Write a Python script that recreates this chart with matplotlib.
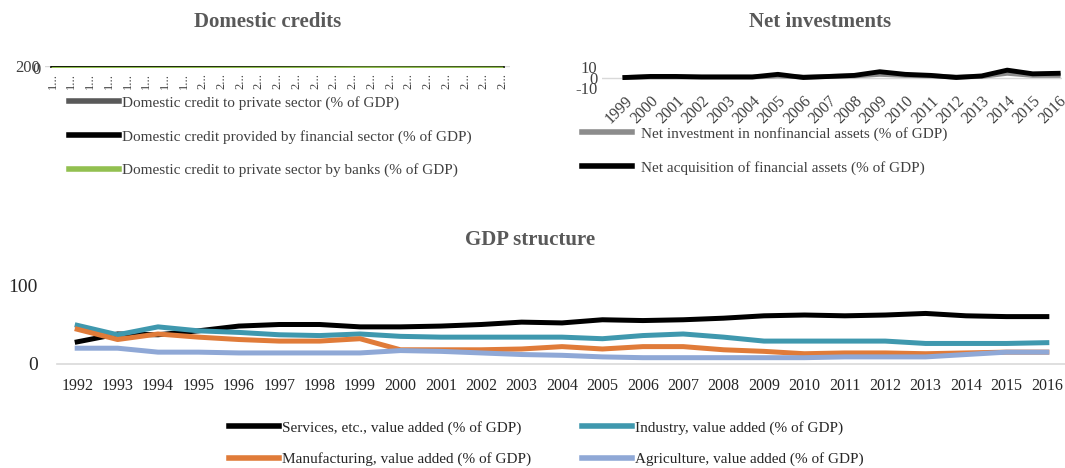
import numpy as np
import matplotlib
matplotlib.use("Agg")
import matplotlib.pyplot as plt
from matplotlib.lines import Line2D

plt.rcParams['font.family'] = ['Liberation Serif', 'DejaVu Serif']

# ---- data ----
gdp_years = [str(y) for y in range(1992, 2017)]
services = [28, 38, 37, 42, 48, 50, 50, 47, 47, 48, 50, 53, 52, 56, 55, 56, 58, 61, 62, 61, 62, 64, 61, 60, 60]
industry = [49, 37, 47, 42, 40, 37, 36, 38, 35, 34, 34, 34, 34, 32, 36, 38, 34, 29, 29, 29, 29, 26, 26, 26, 27]
manufacturing = [44, 31, 38, 34, 31, 29, 29, 32, 18, 18, 18, 19, 22, 19, 22, 22, 18, 16, 13, 14, 14, 13, 14, 15, 15]
agriculture = [20, 20, 15, 15, 14, 14, 14, 14, 17, 16, 14, 12, 11, 9, 8, 8, 8, 8, 8, 9, 9, 9, 12, 15, 15]

credit_years = [str(y) for y in range(1992, 2017)]
credit_private = [10, 12, 14, 15, 16, 17, 18, 19, 20, 22, 24, 26, 28, 32, 36, 42, 50, 52, 50, 48, 46, 44, 42, 40, 38]
credit_financial = [30, 32, 33, 34, 35, 36, 37, 38, 40, 42, 44, 46, 48, 52, 56, 62, 70, 72, 70, 68, 66, 64, 62, 60, 58]
credit_banks = [10, 12, 14, 15, 16, 17, 18, 19, 20, 22, 24, 26, 28, 32, 36, 42, 50, 52, 50, 48, 46, 44, 42, 40, 38]

inv_years = [str(y) for y in range(1999, 2017)]
net_nonfin = [0, 0.5, 0.5, 0.5, 0.5, 0.5, 1.5, 0.5, 1, 1.5, 3, 2, 1.5, 0.5, 1, 4, 2, 2]
net_fin = [0, 1, 1, 0.5, 0.5, 0.5, 3, 0, 1, 2, 5.5, 3, 2, 0, 1.5, 7, 3.5, 4]

W, H = 1065, 468
fig = plt.figure(figsize=(W / 100, H / 100), dpi=100)

title_col = '#595959'
tick_col = '#404040'
leg_col = '#404040'


def ax_px(left, top, right, bottom):
    return fig.add_axes([left / W, 1 - bottom / H, (right - left) / W, (bottom - top) / H])


def clean(ax):
    for s in ax.spines.values():
        s.set_visible(False)
    ax.tick_params(length=0, colors=tick_col)


# ---- Domestic credits ----
ax1 = ax_px(45, 66, 510, 68)
x1 = np.arange(len(credit_years))
ax1.plot(x1, credit_private, color='#595959', lw=3)
ax1.plot(x1, credit_financial, color='black', lw=3)
ax1.plot(x1, credit_banks, color='#92C050', lw=1.5)
ax1.set_ylim(0, 200)
ax1.set_xlim(-0.4, len(credit_years) - 0.6)
ax1.set_yticks([0, 200])
ax1.set_yticklabels(['0', '200'], fontsize=12)
ax1.set_xticks(x1)
ax1.set_xticklabels([y[0] + '...' for y in credit_years], rotation=90, fontsize=9, color='#595959')
ax1.axhline(200, color='#d9d9d9', lw=1, zorder=0)
clean(ax1)
fig.text(268 / W, 1 - 22 / H, 'Domestic credits', ha='center', va='center',
         fontsize=15, fontweight='bold', color=title_col)
h1 = [Line2D([], [], color='#595959', lw=4),
      Line2D([], [], color='black', lw=4),
      Line2D([], [], color='#92C050', lw=4)]
fig.legend(h1, ['Domestic credit to private sector (% of GDP)',
                'Domestic credit provided by financial sector (% of GDP)',
                'Domestic credit to private sector by banks (% of GDP)'],
           loc='upper left', bbox_to_anchor=(55 / W, 1 - 82 / H), frameon=False,
           fontsize=11, handlelength=3.3, handletextpad=0.2, labelspacing=1.3,
           labelcolor=leg_col)

# ---- Net investments ----
ax2 = ax_px(602, 67, 1062, 88)
x2 = np.arange(len(inv_years))
ax2.plot(x2, net_nonfin, color='#8C8C8C', lw=3.5)
ax2.plot(x2, net_fin, color='black', lw=3.5)
ax2.set_ylim(-10, 10)
ax2.set_xlim(-0.9, len(inv_years) - 0.85)
ax2.set_yticks([-10, 0, 10])
ax2.set_yticklabels(['-10', '0', '10'], fontsize=12)
ax2.axhline(0, color='#d9d9d9', lw=1, zorder=0)
ax2.set_xticks(x2)
ax2.set_xticklabels(inv_years, rotation=45, ha='right', rotation_mode='anchor', fontsize=11.5)
clean(ax2)
fig.text(820 / W, 1 - 22 / H, 'Net investments', ha='center', va='center',
         fontsize=15, fontweight='bold', color=title_col)
h2 = [Line2D([], [], color='#8C8C8C', lw=4), Line2D([], [], color='black', lw=4)]
fig.legend(h2, ['Net investment in nonfinancial assets (% of GDP)',
                'Net acquisition of financial assets (% of GDP)'],
           loc='upper left', bbox_to_anchor=(568 / W, 1 - 113 / H), frameon=False,
           fontsize=11, handlelength=3.3, handletextpad=0.6, labelspacing=1.3,
           labelcolor=leg_col)

# ---- GDP structure ----
ax3 = ax_px(57, 285, 1065, 364)
x3 = np.arange(len(gdp_years))
ax3.plot(x3, services, color='black', lw=3.6)
ax3.plot(x3, industry, color='#3F98AE', lw=3.6)
ax3.plot(x3, manufacturing, color='#E07B39', lw=3.6)
ax3.plot(x3, agriculture, color='#8FA8D6', lw=3.6)
ax3.set_ylim(0, 100)
ax3.set_xlim(-0.5, len(gdp_years) - 0.55)
ax3.set_yticks([0, 100])
ax3.set_yticklabels(['0', '100'], fontsize=14)
ax3.axhline(0, color='#d9d9d9', lw=1.2, zorder=0, clip_on=False)
ax3.set_xticks(x3)
ax3.set_xticklabels(gdp_years, fontsize=11.5)
ax3.tick_params(axis='x', pad=10)
ax3.tick_params(axis='y', pad=14)
clean(ax3)
ax3.tick_params(colors='#262626')
fig.text(530 / W, 1 - 240 / H, 'GDP structure', ha='center', va='center',
         fontsize=15, fontweight='bold', color=title_col)
h3 = [Line2D([], [], color='black', lw=4), Line2D([], [], color='#E07B39', lw=4),
      Line2D([], [], color='#3F98AE', lw=4), Line2D([], [], color='#8FA8D6', lw=4)]
fig.legend(h3, ['Services, etc., value added (% of GDP)',
                'Manufacturing, value added (% of GDP)',
                'Industry, value added (% of GDP)',
                'Agriculture, value added (% of GDP)'],
           loc='upper left', bbox_to_anchor=(215 / W, 1 - 407 / H), ncol=2, frameon=False,
           fontsize=11, handlelength=3.3, handletextpad=0.2, labelspacing=1.15,
           columnspacing=3.3, labelcolor='#262626')

fig.savefig('out.png', dpi=100)
